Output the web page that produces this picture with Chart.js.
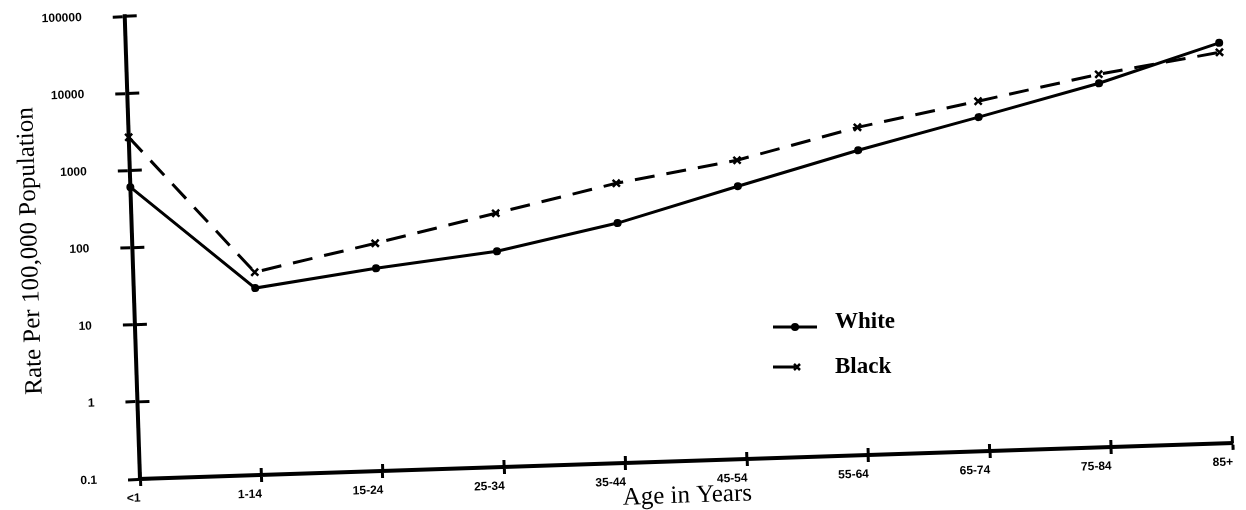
<!DOCTYPE html>
<html><head><meta charset="utf-8">
<script src="https://cdn.jsdelivr.net/npm/chart.js@4.4.1/dist/chart.umd.min.js"></script>
<style>
html,body{margin:0;padding:0;background:#fff;overflow:hidden;width:1246px;height:510px}
#wrap{position:relative;width:1246px;height:540px}
canvas{display:block}
</style></head>
<body><div id="wrap"><canvas id="c" width="1246" height="540"></canvas></div>
<script>
const categories = ['<1','1-14','15-24','25-34','35-44','45-54','55-64','65-74','75-84','85+'];
const whiteRates = [608, 26.5, 42.5, 62.6, 129, 344, 893, 2130, 5190, 15400];
const blackRates = [2700, 42.6, 89.5, 195, 424, 747, 1770, 3430, 6800, 11600];
const yTickValues = [0.1, 1, 10, 100, 1000, 10000, 100000];
const seriesNames = ['White', 'Black'];
const xTitle = 'Age in Years';
const yTitle = 'Rate Per 100,000 Population';

const TILT = 0.033; // scanned page is slightly rotated
const CANVAS_H = 540;

const scanPlugin = {
  id: 'scan',
  beforeDraw(chart) {
    const ctx = chart.ctx, a = chart.chartArea;
    ctx.save();
    ctx.translate(a.left, a.bottom);
    ctx.rotate(-TILT);
    ctx.translate(-a.left, -a.bottom);
  },
  afterDraw(chart) {
    const ctx = chart.ctx, a = chart.chartArea;
    const ys = chart.scales.y, xs = chart.scales.x;
    // inner halves of the crossing tick marks
    ctx.save();
    ctx.strokeStyle = '#000';
    ctx.lineWidth = 3;
    ctx.beginPath();
    ys.ticks.forEach((t, i) => { const p = ys.getPixelForTick(i); ctx.moveTo(a.left, p); ctx.lineTo(a.left + 12, p); });
    xs.ticks.forEach((t, i) => { const p = xs.getPixelForTick(i); ctx.moveTo(p, a.bottom); ctx.lineTo(p, a.bottom - 7); });
    ctx.stroke();
    ctx.restore();
    ctx.restore();

    // legend
    ctx.save();
    ctx.strokeStyle = '#000';
    ctx.fillStyle = '#000';
    ctx.lineWidth = 3;
    ctx.beginPath(); ctx.moveTo(773, 327); ctx.lineTo(817, 327); ctx.stroke();
    ctx.beginPath(); ctx.arc(795, 327, 4, 0, Math.PI * 2); ctx.fill();
    ctx.beginPath(); ctx.moveTo(773, 367); ctx.lineTo(795, 367); ctx.stroke();
    ctx.lineWidth = 2.5;
    ctx.beginPath();
    ctx.moveTo(794, 364); ctx.lineTo(800, 370);
    ctx.moveTo(800, 364); ctx.lineTo(794, 370);
    ctx.stroke();
    ctx.font = 'bold 23px "Liberation Serif"';
    ctx.textBaseline = 'alphabetic';
    ctx.fillText(seriesNames[0], 835, 328);
    ctx.fillText(seriesNames[1], 835, 373);
    ctx.restore();
  }
};

new Chart(document.getElementById('c'), {
  type: 'line',
  data: {
    labels: categories,
    datasets: [
      { label: seriesNames[0], data: whiteRates, borderColor: '#000', backgroundColor: '#000',
        borderWidth: 3, pointStyle: 'circle', pointRadius: 4, pointBackgroundColor: '#000',
        pointBorderWidth: 0, tension: 0, clip: false },
      { label: seriesNames[1], data: blackRates, borderColor: '#000', backgroundColor: '#000',
        borderWidth: 3, borderDash: [20, 12], pointStyle: 'crossRot', pointRadius: 5,
        pointBorderWidth: 2.5, pointBorderColor: '#000', tension: 0, clip: false }
    ]
  },
  options: {
    responsive: false,
    animation: false,
    events: [],
    layout: { autoPadding: false, padding: { top: 16, right: 13, left: 0, bottom: 0 } },
    plugins: { legend: { display: false }, tooltip: { enabled: false }, title: { display: false } },
    scales: {
      x: {
        type: 'category',
        offset: false,
        afterFit: s => { s.height = CANVAS_H - 479; s.paddingLeft = 0; s.paddingRight = 0; },
        ticks: { align: 'end', autoSkip: false, maxRotation: 0, minRotation: 0, padding: 5,
                 color: '#000', font: { family: 'Liberation Sans', size: 12, weight: 'bold' } },
        grid: { drawOnChartArea: false, offset: false, tickLength: 7, tickWidth: 3, tickColor: '#000' },
        border: { display: true, width: 4, color: '#000' },
        title: { display: true, text: xTitle, color: '#000',
                 font: { family: 'Liberation Serif', size: 25 }, padding: { top: 0, bottom: 11 } }
      },
      y: {
        type: 'logarithmic',
        min: 0.1,
        max: 100000,
        afterBuildTicks: s => { s.ticks = yTickValues.map(v => ({ value: v })); },
        afterFit: s => { s.width = 140; s.paddingTop = 0; s.paddingBottom = 0; },
        ticks: { callback: v => String(v), autoSkip: false, padding: 31, color: '#000',
                 font: { family: 'Liberation Sans', size: 12, weight: 'bold' } },
        grid: { drawOnChartArea: false, tickLength: 12, tickWidth: 3, tickColor: '#000' },
        border: { display: true, width: 4, color: '#000' },
        title: { display: true, text: yTitle, color: '#000',
                 font: { family: 'Liberation Serif', size: 25 }, padding: { top: 23, bottom: 0 } }
      }
    }
  },
  plugins: [scanPlugin]
});
</script>
</body></html>
